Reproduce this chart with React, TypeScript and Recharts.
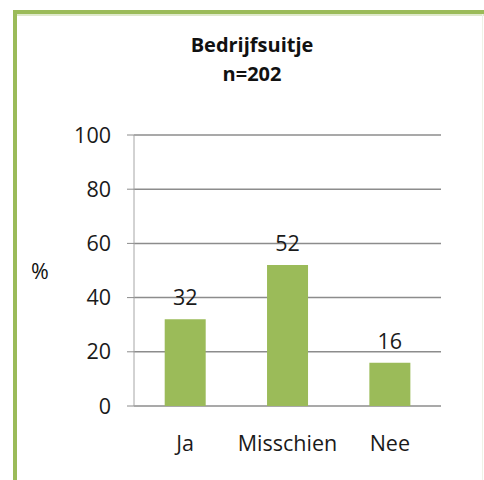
import React from "react";
import { BarChart, Bar, XAxis, YAxis, CartesianGrid, LabelList } from "recharts";

const categories = ["Ja", "Misschien", "Nee"];
const values = [32, 52, 16];
const yTicks = [0, 20, 40, 60, 80, 100];
const boundaryTicks = [0, 1, 2, 3];
const titleLines = ["Bedrijfsuitje", "n=202"];

const data = categories.map((c, i) => ({ name: c, value: values[i], pos: i + 0.5 }));

const FONT = "'Open Sans', 'Liberation Sans', sans-serif";
const GREEN = "#9BBB59";
const FS = 21.5;

export default function App() {
  return (
    <div style={{ position: "fixed", left: 0, top: 0, width: 484, height: 480, background: "#fff", overflow: "hidden", fontFamily: FONT }}>
      <div style={{ position: "absolute", left: 13, top: 10, width: 471, height: 4, background: GREEN }} />
      <div style={{ position: "absolute", left: 17, top: 14, width: 467, height: 2, background: "#dfe9cb" }} />
      <div style={{ position: "absolute", left: 13, top: 10, width: 4, height: 470, background: GREEN }} />
      <div style={{ position: "absolute", left: 482, top: 14, width: 1, height: 466, background: "#eef2e6" }} />
      <div style={{ position: "absolute", left: 0, top: 30, width: 504, textAlign: "center", fontWeight: 700, fontSize: 20, lineHeight: "29px", color: "#111" }}>
        {titleLines.map((t) => (
          <div key={t}>{t}</div>
        ))}
      </div>
      <div style={{ position: "absolute", left: 31, top: 256, fontSize: FS, color: "#111" }}>%</div>
      <div style={{ position: "absolute", left: 0, top: 0 }}>
        <BarChart width={484} height={480} data={data} margin={{ top: 135, right: 43, bottom: 0, left: 0 }} barCategoryGap="30%">
          <CartesianGrid horizontal vertical={false} stroke="#8c8c8c" strokeWidth={1.5} />
          <XAxis xAxisId="b" type="number" dataKey="pos" domain={[0, 3]} ticks={boundaryTicks} tick={false} tickLine={{ stroke: "#a6a6a6" }} tickSize={8} axisLine={{ stroke: "#a6a6a6", strokeWidth: 1.5 }} height={0} />
          <XAxis dataKey="name" axisLine={false} tickLine={false} tickSize={0} tickMargin={30} height={74} tick={{ fill: "#1a1a1a", fontSize: FS, fontFamily: FONT }} interval={0} />
          <YAxis domain={[0, 100]} ticks={yTicks} width={134} tickSize={7} tickMargin={16} axisLine={{ stroke: "#a6a6a6" }} tickLine={{ stroke: "#8c8c8c" }} tick={{ fill: "#1a1a1a", fontSize: FS, fontFamily: FONT }} interval={0} />
          <Bar dataKey="value" fill={GREEN} isAnimationActive={false}>
            <LabelList dataKey="value" position="top" offset={14} style={{ fill: "#1a1a1a", fontSize: FS, fontFamily: FONT }} />
          </Bar>
        </BarChart>
      </div>
    </div>
  );
}
